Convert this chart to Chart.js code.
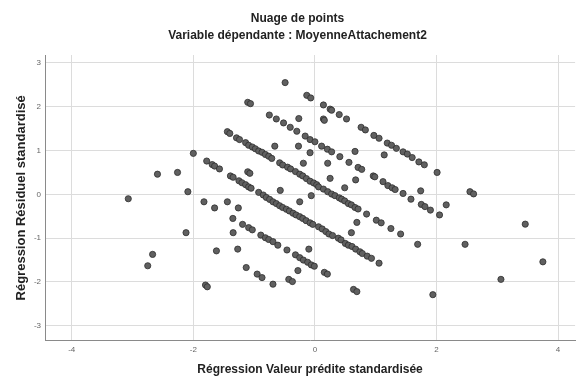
<!DOCTYPE html>
<html>
<head>
<meta charset="utf-8">
<script src="https://cdn.jsdelivr.net/npm/chart.js@4"></script>
<style>
  body { margin: 0; background: #ffffff; }
  canvas { display: block; }
</style>
</head>
<body>
<canvas id="scatter_chart" width="579" height="379"></canvas>
<script>
// Standardized predicted values (x) and standardized residuals (y)
const predicted = [
  -3.07,-2.75,-2.67,-2.59,-2.26,-2.12,-2.09,-2.0,-1.825,-1.80,
  -1.77,-1.78,-1.69,-1.65,-1.57,-1.65,-1.62,-1.44,-1.44,-1.40,
  -1.39,-1.345,-1.35,-1.345,-1.29,-1.27,-1.26,-1.25,-1.24,-1.20,
  -1.19,-1.14,-1.14,-1.13,-1.105,-1.06,-1.105,-1.07,-1.09,-1.09,
  -1.09,-1.05,-1.03,-1.03,-0.98,-0.95,-0.925,-0.925,-0.89,-0.87,
  -0.87,-0.85,-0.815,-0.815,-0.80,-0.76,-0.76,-0.75,-0.745,-0.71,
  -0.69,-0.69,-0.69,-0.66,-0.635,-0.635,-0.61,-0.58,-0.58,-0.57,
  -0.53,-0.53,-0.516,-0.49,-0.47,-0.46,-0.45,-0.43,-0.42,-0.406,
  -0.40,-0.37,-0.36,-0.32,-0.32,-0.31,-0.298,-0.28,-0.27,-0.265,
  -0.25,-0.25,-0.25,-0.25,-0.20,-0.20,-0.19,-0.19,-0.16,-0.145,
  -0.14,-0.134,-0.12,-0.10,-0.08,-0.08,-0.08,-0.08,-0.069,-0.06,
  -0.06,-0.035,-0.02,-0.01,0.0,0.03,
  0.06,0.06,0.11,0.12,0.14,0.14,0.155,0.14,0.155,0.18,
  0.205,0.205,0.21,0.21,0.23,0.25,0.25,0.275,0.275,0.275,
  0.29,0.33,0.385,0.40,0.40,0.41,0.43,0.44,0.49,0.49,
  0.50,0.52,0.55,0.55,0.56,0.60,0.60,0.61,0.635,0.66,
  0.66,0.67,0.67,0.69,0.69,0.71,0.71,0.74,0.76,0.77,
  0.78,0.83,0.85,0.86,0.93,0.96,0.97,0.985,1.01,1.055,
  1.055,1.09,1.12,1.14,1.19,1.20,1.25,1.26,1.27,1.32,
  1.34,1.41,1.45,1.45,1.52,1.58,1.60,1.69,1.71,1.74,
  1.75,1.80,1.81,1.90,1.94,2.01,2.05,2.16,2.47,2.55,
  2.61,3.06,3.46,3.75];

const residuals = [
  -0.10,-1.63,-1.37,0.46,0.50,-0.875,0.06,0.935,-0.17,-2.07,
  -2.11,0.76,0.68,0.645,0.58,-0.31,-1.29,-0.17,1.43,1.39,
  0.42,0.39,-0.55,-0.875,1.29,-1.25,-0.31,0.31,1.25,0.265,
  -0.685,1.18,0.22,-1.67,2.10,2.07,0.515,0.48,1.12,0.17,
  -0.76,0.14,1.08,-0.81,1.04,-1.82,0.99,0.045,-0.93,0.96,
  -1.90,-0.015,0.91,-0.99,-0.07,0.87,-1.03,1.81,-0.115,0.82,
  -0.17,-1.08,-2.05,1.10,1.72,-0.21,-1.16,0.72,-0.26,0.09,
  0.67,-0.30,1.63,2.55,-0.34,-1.27,0.62,-1.94,-0.38,1.53,
  0.58,-1.99,-0.43,0.52,-1.38,-0.47,1.44,-1.74,1.10,1.73,
  0.46,-0.17,-0.51,-1.445,0.42,-0.55,0.71,-1.50,1.33,-0.60,
  0.36,2.26,-1.55,-1.25,1.25,0.95,0.30,-0.65,2.20,-0.03,
  -1.61,-0.685,0.26,-1.64,1.20,0.22,
  0.17,-0.74,1.10,-0.79,2.04,1.72,1.69,0.12,-1.78,-0.85,
  1.03,-1.82,0.71,0.06,-0.905,1.945,0.365,1.92,0.97,0.007,
  -0.94,-0.03,-1.00,1.82,-0.08,0.86,-1.04,-0.11,0.15,-0.15,
  -1.12,1.72,-0.21,-1.16,0.73,-0.24,-0.875,-1.19,-2.17,0.98,
  -0.30,0.33,-1.25,-0.64,-2.22,0.615,-0.335,-1.31,1.53,0.57,
  -1.35,1.47,-0.45,-1.41,-1.46,0.42,1.345,0.40,-0.59,1.28,
  -1.57,-0.65,0.29,0.90,1.17,0.20,-0.78,1.12,0.15,0.11,
  1.05,-0.905,0.97,0.02,0.92,-0.11,0.84,-1.14,0.74,0.08,
  -0.23,0.675,-0.28,-0.36,-2.29,0.50,-0.47,-0.24,-1.14,0.06,
  0.01,-1.94,-0.68,-1.54];

const x_ticks = [-4, -2, 0, 2, 4];
const y_ticks = [-3, -2, -1, 0, 1, 2, 3];

const chart_title = "Nuage de points";
const chart_subtitle = "Variable dépendante : MoyenneAttachement2";
const x_label = "Régression Valeur prédite standardisée";
const y_label = "Régression Résiduel standardisé";

const font_family = "'Liberation Sans', Arial, sans-serif";
const grid_color = "#dcdcdc";
const axis_color = "#8a8a8a";

var scatter_points = predicted.map((x, i) => ({x: x, y: residuals[i]}));

var scatter_chart = new Chart(
  document.getElementById('scatter_chart'),
  {
    type: 'scatter',
    data: {
      datasets: [{
        data: scatter_points,
        pointRadius: 3.1,
        pointHoverRadius: 3.1,
        backgroundColor: "#606060",
        borderColor: "#2e2e2e",
        borderWidth: 0.8
      }]
    },
    options: {
      responsive: false,
      animation: false,
      events: [], // static picture, no hover
      layout: {
        padding: {left: 17, right: 1, top: 0, bottom: 0}
      },
      scales: {
        x: {
          type: 'linear',
          position: 'bottom',
          min: -4.44,
          max: 4.28,
          afterBuildTicks: function (axis) { axis.ticks = x_ticks.map(v => ({value: v})); },
          afterFit: function (axis) { axis.height = 38.3; },
          grid: { color: grid_color, lineWidth: 1, drawTicks: false },
          border: { color: axis_color, width: 1 },
          ticks: { font: {family: font_family, size: 8}, color: "#666666", padding: 4 },
          title: {
            display: true,
            text: x_label,
            font: {family: font_family, size: 12, weight: 'bold'},
            color: "#222222",
            padding: {top: 5.7, bottom: 2.5}
          }
        },
        y: {
          type: 'linear',
          position: 'left',
          min: -3.34,
          max: 3.18,
          afterBuildTicks: function (axis) { axis.ticks = y_ticks.map(v => ({value: v})); },
          afterFit: function (axis) { axis.width = 28; },
          grid: { color: grid_color, lineWidth: 1, drawTicks: false },
          border: { color: axis_color, width: 1 },
          ticks: { font: {family: font_family, size: 8}, color: "#666666", padding: 4 },
          title: {
            display: true,
            text: y_label,
            font: {family: font_family, size: 13, weight: 'bold'},
            color: "#222222",
            padding: {top: -3.8, bottom: 0}
          }
        }
      },
      plugins: {
        legend: { display: false },
        tooltip: { enabled: false },
        title: {
          display: true,
          text: chart_title,
          font: {family: font_family, size: 12, weight: 'bold'},
          color: "#222222",
          padding: {top: 11.4, bottom: 2.8}
        },
        subtitle: {
          display: true,
          text: chart_subtitle,
          font: {family: font_family, size: 12, weight: 'bold'},
          color: "#222222",
          padding: {top: 0, bottom: 12}
        }
      }
    }
  });
</script>
</body>
</html>
